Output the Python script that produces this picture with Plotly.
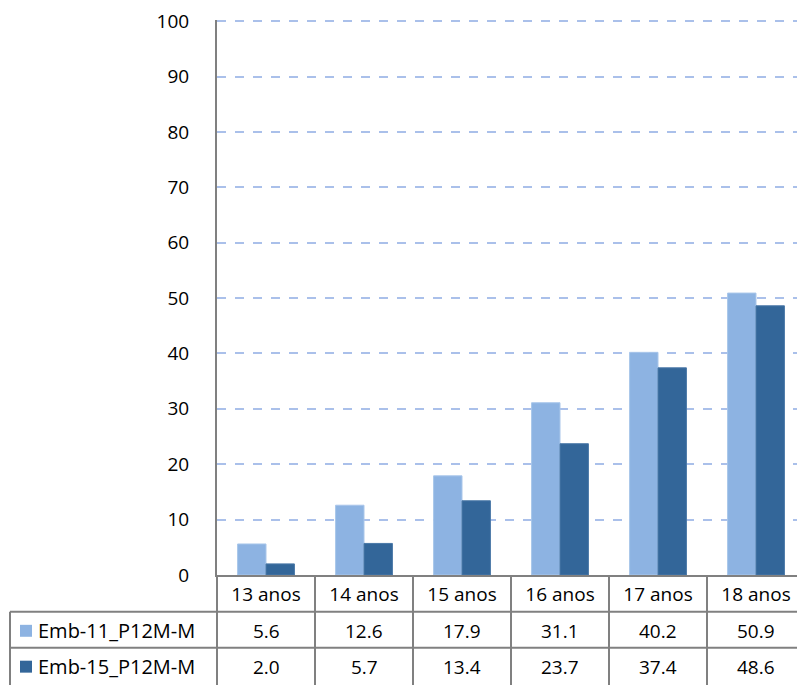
import plotly.graph_objects as go

categories = ["13 anos", "14 anos", "15 anos", "16 anos", "17 anos", "18 anos"]
series_names = ["Emb-11_P12M-M", "Emb-15_P12M-M"]
emb11 = [5.6, 12.6, 17.9, 31.1, 40.2, 50.9]
emb15 = [2.0, 5.7, 13.4, 23.7, 37.4, 48.6]
y_ticks = [0, 10, 20, 30, 40, 50, 60, 70, 80, 90, 100]

colors = ["#8DB3E2", "#336699"]
edges = ["#A9C6EA", "#4A78A8"]
font = "'Open Sans', sans-serif"
grid_col = "#808080"

# the page body has an 8px margin, so the figure is drawn from (8, 8)
OFF = 8
W, H = 805 - OFF, 685 - OFF
L, R, T, B = 217 - OFF, 0, 18 - OFF, 110
pw, ph = W - L - R, H - T - B


def px_y(y):  # window pixel row -> paper y
    return (H - B - (y - OFF)) / ph


def px_x(x):  # window pixel column -> paper x
    return (x - OFF - L) / pw


fig = go.Figure()
for name, vals, c, e in zip(series_names, [emb11, emb15], colors, edges):
    fig.add_trace(go.Bar(x=categories, y=vals, name=name, marker_color=c,
                         marker_line=dict(color=e, width=1), showlegend=False))

shapes = []
annotations = []

# table lines (bottom border falls just outside the window)
for yy in [612, 648]:
    shapes.append(dict(type="line", xref="paper", yref="paper",
                       x0=px_x(10), x1=1, y0=px_y(yy), y1=px_y(yy),
                       line=dict(color=grid_col, width=2)))
shapes.append(dict(type="line", xref="paper", yref="paper",
                   x0=px_x(10), x1=px_x(10), y0=px_y(612), y1=px_y(690),
                   line=dict(color=grid_col, width=2)))
shapes.append(dict(type="line", xref="paper", yref="paper",
                   x0=0, x1=0, y0=0, y1=px_y(690),
                   line=dict(color=grid_col, width=2)))
for i in range(len(categories) - 1):
    shapes.append(dict(type="line", xref="x", yref="paper",
                       x0=i + 0.5, x1=i + 0.5, y0=0, y1=px_y(690),
                       line=dict(color=grid_col, width=2)))

row_y = [631, 667]
for name, vals, c, ry in zip(series_names, [emb11, emb15], colors, row_y):
    shapes.append(dict(type="rect", xref="paper", yref="paper",
                       x0=px_x(20), x1=px_x(32), y0=px_y(ry - 6), y1=px_y(ry + 6),
                       fillcolor=c, line=dict(width=0)))
    annotations.append(dict(xref="paper", yref="paper", x=px_x(36), y=px_y(ry),
                            text=name, showarrow=False, xanchor="left", yanchor="middle",
                            font=dict(size=20, color="black", family=font)))
    for cat, v in zip(categories, vals):
        annotations.append(dict(xref="x", yref="paper", x=cat, y=px_y(ry),
                                text=f"{v:.1f}", showarrow=False, yanchor="middle",
                                font=dict(size=19, color="black", family=font)))

fig.update_layout(
    width=W, height=H,
    margin=dict(l=L, r=R, t=T, b=B),
    paper_bgcolor="white", plot_bgcolor="white",
    barmode="group", bargap=0.42, bargroupgap=0,
    font=dict(family=font, size=16, color="black"),
    shapes=shapes, annotations=annotations,
)
fig.update_xaxes(showline=True, linecolor=grid_col, linewidth=2,
                 ticks="outside", tickson="boundaries", ticklen=6, tickcolor=grid_col,
                 showgrid=False, tickfont=dict(size=19), ticklabelstandoff=1)
fig.update_yaxes(range=[0, 100.2], tickvals=y_ticks, showline=True, linecolor=grid_col,
                 linewidth=2, ticks="", showgrid=True, gridcolor="#AAC0EA", gridwidth=1.5,
                 griddash="dash", zeroline=False, tickfont=dict(size=19),
                 ticklabelstandoff=22, ticklabeloverflow="allow")

fig.write_html("out.html")
